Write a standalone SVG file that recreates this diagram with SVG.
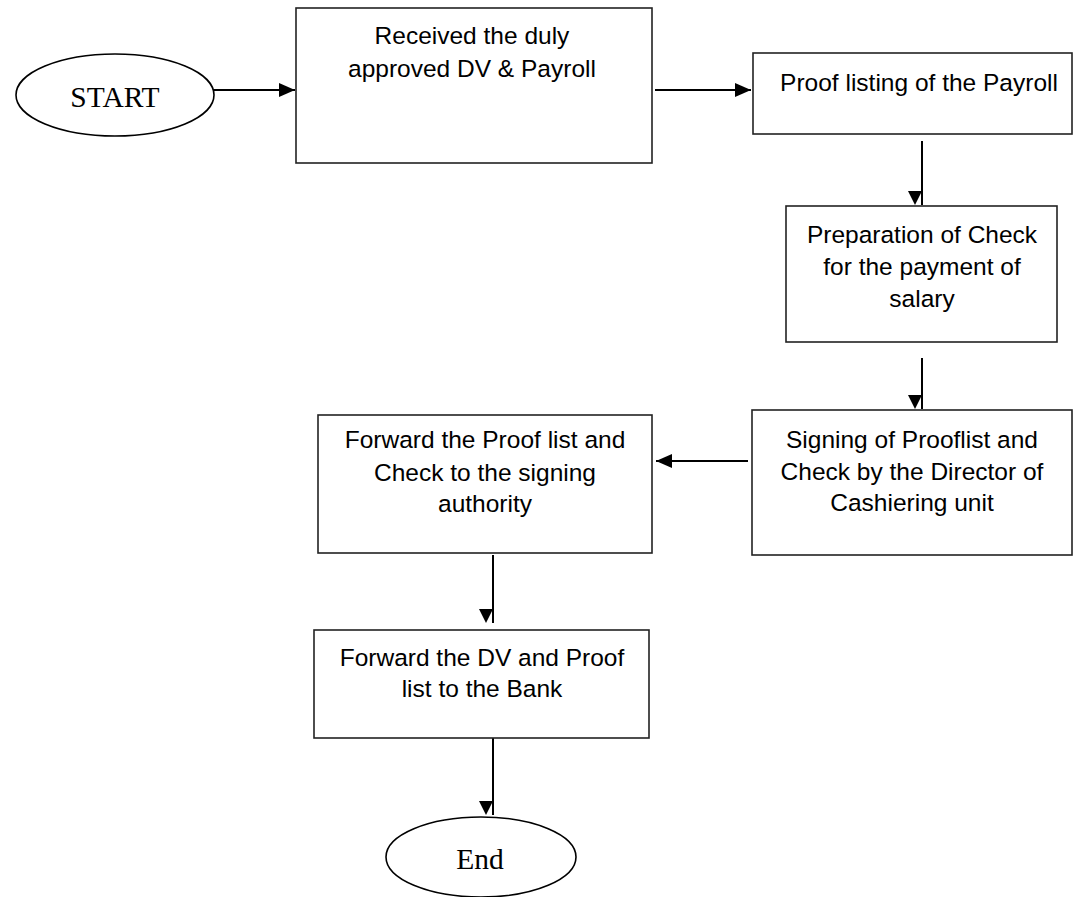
<svg xmlns="http://www.w3.org/2000/svg" width="1073" height="897" viewBox="0 0 1073 897">
<style>
.box{fill:#fff;stroke:#222;stroke-width:1.6}
.term{fill:#fff;stroke:#000;stroke-width:1.6}
.t{font-family:"Liberation Sans",Arial,sans-serif;font-size:24.5px;fill:#000;text-anchor:middle}
.s{font-family:"Liberation Serif","Times New Roman",serif;font-size:29.5px;fill:#000;text-anchor:middle}
.c{fill:none;stroke:#000;stroke-width:2}
.ch{marker-end:url(#ah)}
.cv{marker-end:url(#av)}
</style>
<defs>
<marker id="ah" markerUnits="userSpaceOnUse" viewBox="0 0 16 14" refX="16" refY="7" markerWidth="16" markerHeight="14" orient="auto" overflow="visible"><path d="M0,0 L16,7 L0,14 z" fill="#000"/></marker>
<marker id="av" markerUnits="userSpaceOnUse" viewBox="0 0 14 14" refX="14" refY="0" markerWidth="14" markerHeight="14" orient="auto" overflow="visible"><path d="M0,0 L14,7 L0,14 z" fill="#000"/></marker>
</defs>
<rect width="1073" height="897" fill="#fff"/>
<g id="connectors">
<line class="c ch" x1="213" y1="90" x2="295" y2="90"/>
<line class="c ch" x1="655" y1="90" x2="751" y2="90"/>
<line class="c cv" x1="922" y1="141" x2="922" y2="205"/>
<line class="c cv" x1="922" y1="358" x2="922" y2="409"/>
<line class="c ch" x1="748" y1="461" x2="656" y2="461"/>
<line class="c cv" x1="493" y1="555" x2="493" y2="623"/>
<line class="c cv" x1="493" y1="738" x2="493" y2="815"/>
</g>
<g id="start">
<ellipse class="term" cx="115" cy="95" rx="99" ry="41"/>
<text class="s" x="115" y="107">START</text>
</g>
<g id="received">
<rect class="box" x="296" y="8" width="356" height="155"/>
<text class="t" x="472" y="44">Received the duly</text>
<text class="t" x="472" y="77">approved DV &amp; Payroll</text>
</g>
<g id="prooflisting">
<rect class="box" x="753" y="53" width="319" height="81"/>
<text class="t" x="919" y="91">Proof listing of the Payroll</text>
</g>
<g id="preparation">
<rect class="box" x="786" y="206" width="271" height="136"/>
<text class="t" x="922" y="243">Preparation of Check</text>
<text class="t" x="922" y="275">for the payment of</text>
<text class="t" x="922" y="307">salary</text>
</g>
<g id="signing">
<rect class="box" x="752" y="410" width="320" height="145"/>
<text class="t" x="912" y="448">Signing of Prooflist and</text>
<text class="t" x="912" y="480">Check by the Director of</text>
<text class="t" x="912" y="511">Cashiering unit</text>
</g>
<g id="forward-signing">
<rect class="box" x="318" y="415" width="334" height="138"/>
<text class="t" x="485" y="448">Forward the Proof list and</text>
<text class="t" x="485" y="481">Check to the signing</text>
<text class="t" x="485" y="512">authority</text>
</g>
<g id="forward-bank">
<rect class="box" x="314" y="630" width="335" height="108"/>
<text class="t" x="482" y="666">Forward the DV and Proof</text>
<text class="t" x="482" y="697">list to the Bank</text>
</g>
<g id="end">
<ellipse class="term" cx="481" cy="857" rx="95" ry="40"/>
<text class="s" x="480" y="869">End</text>
</g>
</svg>
